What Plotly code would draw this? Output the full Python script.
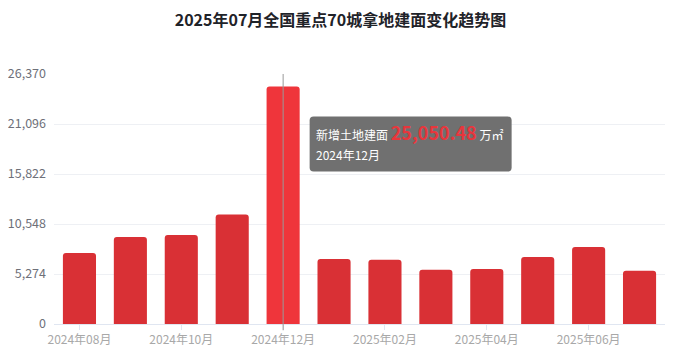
import plotly.graph_objects as go

months = ["2024年08月", "2024年09月", "2024年10月", "2024年11月", "2024年12月", "2025年01月",
          "2025年02月", "2025年03月", "2025年04月", "2025年05月", "2025年06月", "2025年07月"]
land_area = [7480, 9180, 9390, 11560, 25050.48, 6860, 6780, 5730, 5800, 7070, 8120, 5620]
y_ticks = [0, 5274, 10548, 15822, 21096, 26370]
x_tick_labels = ["2024年08月", "2024年10月", "2024年12月", "2025年02月", "2025年04月", "2025年06月"]
highlight = "2024年12月"
series_name = "新增土地建面"
unit = "万㎡"
title = "2025年07月全国重点70城拿地建面变化趋势图"

FONT = "Noto Sans CJK SC, Microsoft YaHei, sans-serif"
colors = ["#ef353b" if m == highlight else "#d93035" for m in months]

fig = go.Figure()
fig.add_trace(go.Bar(x=months, y=land_area, marker=dict(color=colors, line=dict(width=0)),
                     width=0.65, hoverinfo="skip"))

hv = land_area[months.index(highlight)]

# axis pointer line
fig.add_shape(type="line", xref="x", yref="paper", x0=highlight, x1=highlight, y0=-0.025, y1=1.0,
              line=dict(color="#999999", width=1), layer="above")

# tooltip box (pixel offsets relative to the highlighted point)
bx0, bx1, by0, by1, r = 26.5, 228.5, -85, -30, 4
path = (f"M {bx0 + r},{by1} L {bx1 - r},{by1} Q {bx1},{by1} {bx1},{by1 - r} "
        f"L {bx1},{by0 + r} Q {bx1},{by0} {bx1 - r},{by0} "
        f"L {bx0 + r},{by0} Q {bx0},{by0} {bx0},{by0 + r} "
        f"L {bx0},{by1 - r} Q {bx0},{by1} {bx0 + r},{by1} Z")
fig.add_shape(type="path", path=path, xref="x", yref="y", xsizemode="pixel", ysizemode="pixel",
              xanchor=highlight, yanchor=hv, fillcolor="#707070", line=dict(width=0), layer="above")

fig.add_annotation(
    x=highlight, y=hv, xref="x", yref="y", xanchor="left", yanchor="middle",
    xshift=30.5, yshift=-45, showarrow=False, align="left",
    text=(f"{series_name}&nbsp;"
          f"<span style='font-size:18px;color:#e8363c'><b>{hv:,.2f}</b></span>&nbsp;"
          f"{unit}"),
    font=dict(family=FONT, color="#ffffff", size=12),
)
fig.add_annotation(
    x=highlight, y=hv, xref="x", yref="y", xanchor="left", yanchor="middle",
    xshift=30.5, yshift=-68, showarrow=False, align="left",
    text=highlight, font=dict(family=FONT, color="#ffffff", size=12),
)

fig.update_layout(
    width=665, height=354,
    margin=dict(l=46, r=8, t=66, b=38, autoexpand=False),
    paper_bgcolor="#ffffff", plot_bgcolor="#ffffff",
    showlegend=False,
    barcornerradius=3,
    title=dict(text=f"<b>{title}</b>", x=0.5, xanchor="center", y=1 - 12 / 354, yanchor="middle",
               font=dict(family=FONT, size=16, color="#1f2329")),
    font=dict(family=FONT, size=12, color="#6e7079"),
)
fig.update_xaxes(
    type="category", categoryorder="array", categoryarray=months,
    tickmode="array", tickvals=x_tick_labels, ticktext=x_tick_labels,
    ticks="outside", ticklen=5, tickcolor="#e0e6f1",
    showline=True, linecolor="#e0e6f1", linewidth=1, automargin=False,
    showgrid=False, tickfont=dict(family=FONT, size=12, color="#a8a8a8"),
    range=[-0.5, len(months) - 0.5],
)
fig.update_yaxes(
    range=[0, y_ticks[-1]], tickmode="array", tickvals=y_ticks, tickformat=",",
    showgrid=True, gridcolor="#eef0f4", gridwidth=1, zeroline=False, automargin=False,
    showline=False, ticks="", ticklabelstandoff=7,
    tickfont=dict(family=FONT, size=12.5, color="#6e7079"),
)

fig.write_html("out.html")
